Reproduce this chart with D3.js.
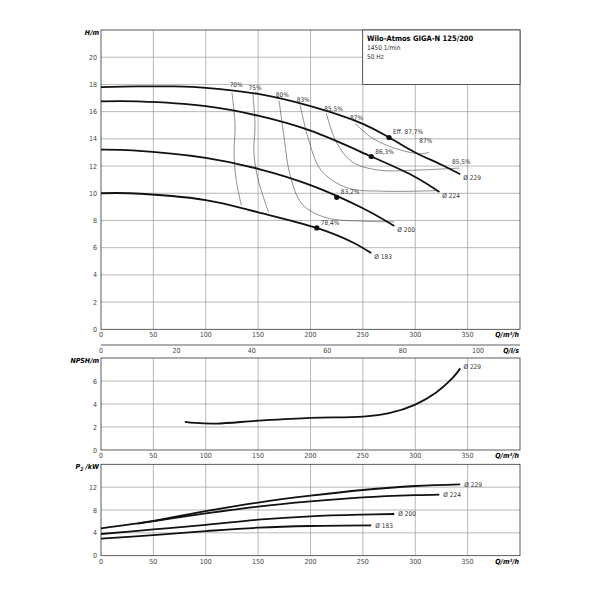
<!DOCTYPE html><html><head><meta charset="utf-8"><script src="https://cdn.jsdelivr.net/npm/d3@7"></script>
<style>body{margin:0;background:#fff}text{font-family:"DejaVu Sans Condensed","DejaVu Sans",sans-serif}</style></head><body><svg id="c" width="600" height="600"></svg>
<script>
const qTicks=[0,50,100,150,200,250,300,350];
const lsTicks=[0,20,40,60,80,100];
const hTicks=[0,2,4,6,8,10,12,14,16,18,20];
const nTicks=[0,2,4,6];
const pTicks=[0,4,8,12];
const H229=[[0,17.8],[35,17.85],[70,17.85],[100,17.75],[150,17.3],[200,16.4],[250,15.1],[275,14.1],[300,13.0],[325,12.1],[343,11.4]];
const H224=[[0,16.75],[35,16.75],[100,16.4],[150,15.7],[200,14.6],[258,12.7],[300,11.2],[323,10.1]];
const H200=[[0,13.2],[30,13.15],[100,12.6],[150,11.8],[200,10.6],[250,8.9],[280,7.6]];
const H183=[[0,10.0],[27,10.0],[100,9.5],[150,8.6],[206,7.45],[240,6.4],[258,5.6]];
const diaLabels=["Ø 229","Ø 224","Ø 200","Ø 183"];
const bepPts=[[275,14.1,"Eff. 87,7%"],[258,12.7,"86,3%"],[225,9.7,"83,2%"],[206,7.45,"78,4%"]];
const eff70=[[125,17.4],[128,15],[127,13],[129,11],[134,9.1]];
const eff75=[[145,17.3],[147,15],[146,13],[150,11],[160,8.6]];
const eff80=[[170,16.8],[175,14],[180,11.5],[192,9.2],[215,8.2],[250,7.95],[280,7.9]];
const eff83=[[190,16.5],[198,14],[210,11.7],[235,10.4],[270,10.15],[323,10.2]];
const eff855=[[215,15.9],[225,13.7],[240,12.3],[265,11.7],[300,11.7],[342,11.85]];
const eff87=[[243,15.1],[260,14.0],[285,13.2],[305,12.9],[313,13.0]];
const effLabels=[[129,17.7,"70%"],[147,17.5,"75%"],[173,17.0,"80%"],[193,16.6,"83%"],[222,16.0,"85,5%"],[244,15.3,"87%"],[310,13.6,"87%"],[344,12.1,"85,5%"]];
const NPSH=[[80,2.45],[90,2.35],[110,2.3],[150,2.55],[200,2.8],[250,2.9],[275,3.2],[300,3.95],[320,5.0],[335,6.2],[343,7.1]];
const P229=[[0,4.8],[50,6.1],[100,7.8],[150,9.3],[200,10.5],[250,11.5],[300,12.2],[343,12.5]];
const P224=[[35,5.6],[100,7.4],[150,8.6],[200,9.5],[250,10.2],[300,10.6],[323,10.7]];
const P200=[[0,3.8],[50,4.6],[100,5.4],[150,6.3],[200,6.9],[250,7.2],[280,7.3]];
const P183=[[0,3.0],[50,3.6],[100,4.3],[150,4.9],[200,5.2],[258,5.3]];

const svg=d3.select("#c");
const x=d3.scaleLinear([0,400],[101,520]);
const xl=d3.scaleLinear([0,400/3.6],[101,520]);
const yH=d3.scaleLinear([0,22],[329.3,30]);
const yN=d3.scaleLinear([0,8],[450,358]);
const yP=d3.scaleLinear([0,16],[555.7,464.3]);
const grid="#9a9a9a";
function panel(y,ticks,title,xlabel){
  const g=svg.append("g");
  const [b,t]=y.range();
  g.selectAll(".v").data(qTicks.slice(1)).join("line").attr("x1",d=>x(d)).attr("x2",d=>x(d)).attr("y1",t).attr("y2",b).attr("stroke",grid).attr("stroke-width",0.7);
  g.selectAll(".h").data(ticks.slice(1)).join("line").attr("x1",101).attr("x2",520).attr("y1",d=>y(d)).attr("y2",d=>y(d)).attr("stroke",grid).attr("stroke-width",0.7);
  g.append("rect").attr("x",101).attr("y",t).attr("width",419).attr("height",b-t).attr("fill","none").attr("stroke","#333").attr("stroke-width",0.8);
  g.selectAll(".yl").data(ticks).join("text").attr("x",97).attr("y",d=>y(d)+2.5).attr("text-anchor","end").attr("font-size",7).attr("fill","#444").text(d=>d);
  g.selectAll(".xl").data(qTicks).join("text").attr("x",d=>x(d)).attr("y",b+8).attr("text-anchor","middle").attr("font-size",7).attr("fill","#444").text(d=>d);
  g.append("text").attr("x",99).attr("y",t+5).attr("text-anchor","end").attr("font-size",7).attr("font-weight","bold").attr("font-style","italic").html(title);
  g.append("text").attr("x",519).attr("y",b+8).attr("text-anchor","end").attr("font-size",7).attr("font-weight","bold").attr("font-style","italic").text(xlabel);
}
panel(yH,hTicks,"H/m","Q/m³/h");
panel(yN,nTicks,"NPSH/m","Q/m³/h");
panel(yP,pTicks,"P<tspan font-size='5' dy='2'>2</tspan><tspan dy='-2'> /kW</tspan>","Q/m³/h");
svg.append("rect").attr("x",362.7).attr("y",30).attr("width",157.3).attr("height",yH(18)-30).attr("fill","#fff").attr("stroke","#333").attr("stroke-width",0.8);
svg.append("text").attr("x",367).attr("y",41).attr("font-size",7.5).attr("font-weight","bold").text("Wilo-Atmos GIGA-N 125/200");
svg.append("text").attr("x",367).attr("y",50).attr("font-size",6.5).attr("fill","#333").text("1450 1/min");
svg.append("text").attr("x",367).attr("y",59).attr("font-size",6.5).attr("fill","#333").text("50 Hz");
svg.append("line").attr("x1",101).attr("x2",520).attr("y1",345).attr("y2",345).attr("stroke","#333").attr("stroke-width",0.8);
svg.selectAll(".ls").data(lsTicks).join("text").attr("x",d=>xl(d)).attr("y",353).attr("text-anchor","middle").attr("font-size",7).attr("fill","#444").text(d=>d);
svg.append("text").attr("x",519).attr("y",353).attr("text-anchor","end").attr("font-size",7).attr("font-weight","bold").attr("font-style","italic").text("Q/l/s");

function curve(data,y,w,col){
  svg.append("path").datum(data).attr("d",d3.line().x(d=>x(d[0])).y(d=>y(d[1])).curve(d3.curveCatmullRom)).attr("fill","none").attr("stroke",col||"#111").attr("stroke-width",w);
}
[eff70,eff75,eff80,eff83,eff855,eff87].forEach(e=>curve(e,yH,0.6,"#444"));
const Hs=[H229,H224,H200,H183];
Hs.forEach((h,i)=>{curve(h,yH,1.8);const l=h[h.length-1];
  svg.append("text").attr("x",x(l[0])+3).attr("y",yH(l[1])+6).attr("font-size",6.5).attr("fill","#333").text(diaLabels[i]);});
bepPts.forEach(p=>{svg.append("circle").attr("cx",x(p[0])).attr("cy",yH(p[1])).attr("r",2.6).attr("fill","#111");
  svg.append("text").attr("x",x(p[0])+4).attr("y",yH(p[1])-3).attr("font-size",6.5).attr("fill","#333").text(p[2]);});
effLabels.forEach(p=>svg.append("text").attr("x",x(p[0])).attr("y",yH(p[1])-1).attr("text-anchor","middle").attr("font-size",6.5).attr("fill","#333").text(p[2]));
curve(NPSH,yN,1.8);
svg.append("text").attr("x",x(346)).attr("y",yN(7.2)+2).attr("font-size",6.5).attr("fill","#333").text("Ø 229");
[P229,P224,P200,P183].forEach((p,i)=>{curve(p,yP,1.8);const l=p[p.length-1];
  svg.append("text").attr("x",x(l[0])+4).attr("y",yP(l[1])+2.5).attr("font-size",6.5).attr("fill","#333").text(diaLabels[i]);});
</script></body></html>
